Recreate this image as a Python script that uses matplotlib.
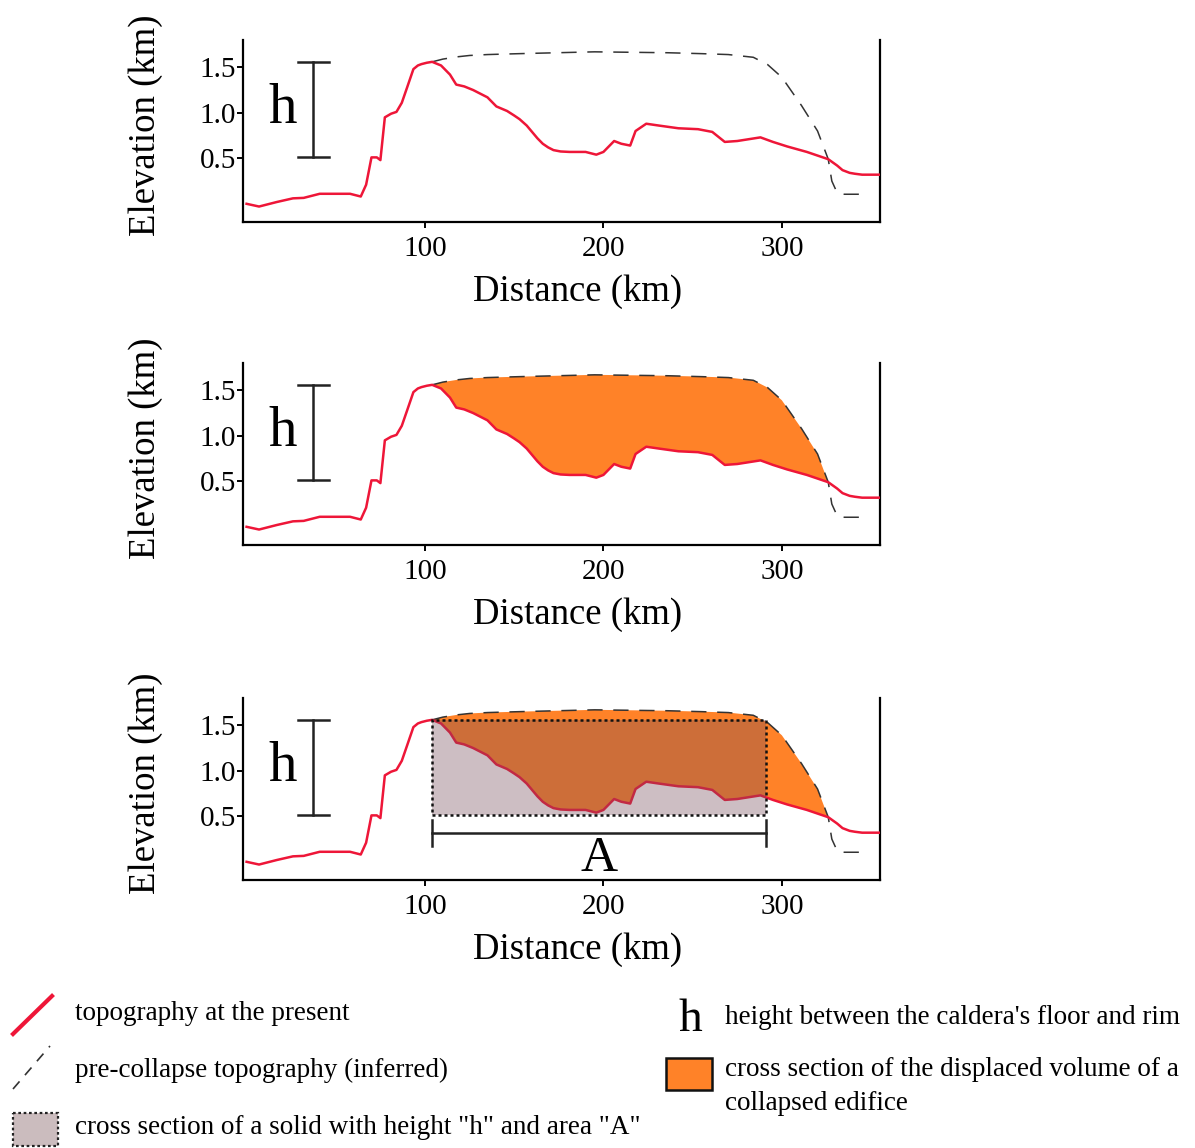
import matplotlib
matplotlib.use("Agg")
import matplotlib.pyplot as plt
import numpy as np
from matplotlib.patches import Rectangle

plt.rcParams["font.family"] = ["Liberation Serif", "DejaVu Serif"]

# present-day topography (red)
distance_km = [0, 7, 17, 26, 32, 41, 58, 64, 67, 70, 73, 75, 77.5, 81, 84, 87, 90,
               93.5, 96, 98, 101, 104, 109, 114, 117.5, 122, 127, 131, 135, 140,
               146, 150, 153, 157, 160, 163, 166, 169, 172, 176, 181, 190, 196,
               200, 206, 210, 215, 218, 224, 231, 242, 253, 261, 268, 275, 288,
               295, 303, 314, 320, 326, 331, 334, 338, 341, 345, 355]
elevation_km = [0.0, -0.03, 0.02, 0.06, 0.065, 0.11, 0.11, 0.08, 0.21, 0.51, 0.51,
                0.48, 0.95, 0.99, 1.01, 1.11, 1.28, 1.48, 1.52, 1.535, 1.55, 1.56,
                1.52, 1.42, 1.31, 1.29, 1.25, 1.21, 1.17, 1.07, 1.02, 0.97, 0.93,
                0.86, 0.79, 0.72, 0.66, 0.62, 0.59, 0.575, 0.57, 0.57, 0.54, 0.57,
                0.69, 0.66, 0.64, 0.80, 0.88, 0.86, 0.83, 0.82, 0.79, 0.68, 0.69,
                0.73, 0.68, 0.63, 0.57, 0.53, 0.49, 0.42, 0.37, 0.34, 0.33, 0.32,
                0.32]

# inferred pre-collapse topography (dashed)
pre_distance_km = [104, 110, 118, 125, 135, 153, 195, 236, 255, 270, 284, 292,
                   300, 311, 320, 326, 328, 331, 335, 348]
pre_elevation_km = [1.56, 1.59, 1.615, 1.63, 1.64, 1.65, 1.67, 1.66, 1.65, 1.64,
                    1.61, 1.53, 1.39, 1.08, 0.80, 0.49, 0.25, 0.12, 0.105, 0.105]

# caldera geometry
rim_km = 1.56
floor_km = 0.51
caldera_start_km = 104
caldera_end_km = 291

xticks = [100, 200, 300]
yticks = [0.5, 1.0, 1.5]
ytick_labels = ["0.5", "1.0", "1.5"]

RED = "#ee1638"
ORANGE = "#ff8228"
BOX = "#754b59"

fig = plt.figure(figsize=(11.95, 11.48), dpi=100)
W, H = 1195, 1148
panel_bottoms = [222, 545, 880]


def base_panel(bottom_px, fill=False, box=False):
    ax = fig.add_axes([243 / W, 1 - bottom_px / H, 637 / W, 182 / H])
    ax.set_xlim(-2, 355)
    ax.set_ylim(-0.2, 1.8)
    ax.spines["top"].set_visible(False)
    for s in ["left", "bottom", "right"]:
        ax.spines[s].set_linewidth(1.6)
    ax.set_xticks(xticks)
    ax.set_yticks(yticks)
    ax.set_yticklabels(ytick_labels)
    ax.tick_params(axis="both", labelsize=21, length=4, width=1.4)
    ax.tick_params(axis="y", pad=1)
    ax.tick_params(axis="x", pad=6)
    ax.set_xlabel("Distance (km)", fontsize=26.5)
    ax.set_ylabel("Elevation (km)", fontsize=26.5)
    ax.xaxis.set_label_coords(0.526, -0.29)
    ax.yaxis.set_label_coords(-0.125, 0.53)

    px = np.array(pre_distance_km)
    py = np.array(pre_elevation_km)
    dx = np.array(distance_km)
    dy = np.array(elevation_km)
    if fill:
        keep_pre = px <= 326
        keep_red = (dx >= caldera_start_km) & (dx <= 326)
        poly_x = np.concatenate([px[keep_pre], dx[keep_red][::-1]])
        poly_y = np.concatenate([py[keep_pre], dy[keep_red][::-1]])
        ax.fill(poly_x, poly_y, color=ORANGE, lw=0, zorder=1)
    ax.plot(px, py, color="#333333", lw=1.1, ls=(0, (10, 7)), zorder=2)
    ax.plot(dx, dy, color=RED, lw=1.8, zorder=3, solid_joinstyle="round")

    # h scale bar
    ax.plot([37.5, 37.5], [floor_km, rim_km], color="#222222", lw=1.8, zorder=4)
    for yy in (floor_km, rim_km):
        ax.plot([29, 46], [yy, yy], color="#222222", lw=1.8, zorder=4)
    ax.text(20.5, 1.04, "h", fontsize=41, ha="center", va="center", zorder=4)

    if box:
        ax.add_patch(Rectangle((caldera_start_km, floor_km),
                               caldera_end_km - caldera_start_km, rim_km - floor_km,
                               facecolor=BOX, alpha=0.36, edgecolor="none", zorder=5))
        ax.add_patch(Rectangle((caldera_start_km, floor_km),
                               caldera_end_km - caldera_start_km, rim_km - floor_km,
                               facecolor="none", edgecolor="#111111", lw=1.8,
                               ls=(0, (1.2, 1.2)), zorder=6))
        ax.plot([caldera_start_km, caldera_end_km], [0.32, 0.32], color="#222222",
                lw=1.8, zorder=4)
        for xx in (caldera_start_km, caldera_end_km):
            ax.plot([xx, xx], [0.17, 0.46], color="#222222", lw=1.8, zorder=4)
        ax.text((caldera_start_km + caldera_end_km) / 2, 0.03, "A", fontsize=37,
                ha="center", va="center", zorder=4)
    return ax


base_panel(panel_bottoms[0])
base_panel(panel_bottoms[1], fill=True)
base_panel(panel_bottoms[2], fill=True, box=True)

# legend drawn in pixel space
lax = fig.add_axes([0, 0, 1, 1], zorder=-1)
lax.set_xlim(0, W)
lax.set_ylim(H, 0)
lax.axis("off")

lax.plot([13, 52], [1034, 996], color=RED, lw=3)
lax.plot([13, 50], [1089, 1046], color="#333333", lw=1.2, ls=(0, (6, 5)))
lax.add_patch(Rectangle((13, 1113), 45, 33, facecolor="#cbbcbe", edgecolor="#222222",
                        lw=1.6, ls=(0, (1.2, 1.2))))
lax.add_patch(Rectangle((666, 1058), 46, 32, facecolor=ORANGE, edgecolor="#111111",
                        lw=1.8))
lax.text(690, 1020, "h", fontsize=34, ha="center", va="center")

fs = 19.5
lax.text(75, 1013, "topography at the present", fontsize=fs, va="center")
lax.text(75, 1070, "pre-collapse topography (inferred)", fontsize=fs, va="center")
lax.text(75, 1127, 'cross section of a solid with height "h" and area "A"', fontsize=fs,
         va="center")
lax.text(725, 1018, "height between the caldera's floor and rim", fontsize=fs,
         va="center")
lax.text(725, 1070, "cross section of the displaced volume of a", fontsize=fs,
         va="center")
lax.text(725, 1104, "collapsed edifice", fontsize=fs, va="center")

fig.savefig("out.png", dpi=100)
